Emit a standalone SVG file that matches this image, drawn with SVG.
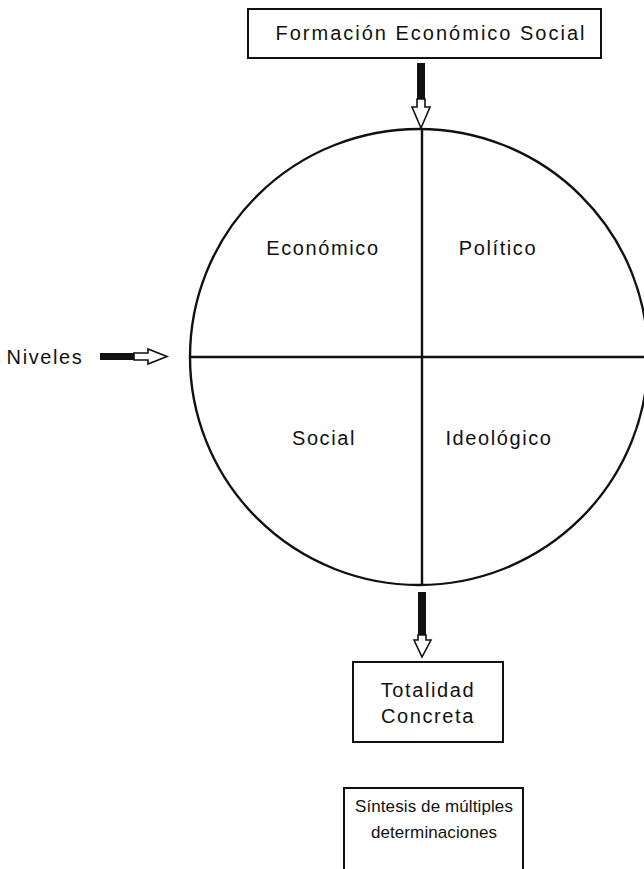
<svg xmlns="http://www.w3.org/2000/svg" width="644" height="869" viewBox="0 0 644 869">
<style>
text{font-family:"Liberation Sans","Arial",sans-serif;font-size:20px;fill:#111;text-anchor:middle;letter-spacing:1.6px}
.sm{font-size:17px;letter-spacing:0.1px}
.box{fill:#fff;stroke:#111;stroke-width:2}
.ln{stroke:#111;stroke-width:2.4;fill:none}
.shaft{fill:#111}
.head{fill:#fff;stroke:#111;stroke-width:1.6;stroke-linejoin:miter}
</style>
<rect width="644" height="869" fill="#fff"/>
<g id="formacion">
<rect class="box" x="248" y="9" width="353" height="49"/>
<text x="431" y="40" style="letter-spacing:2px">Formación Económico Social</text>
</g>
<g id="circulo">
<ellipse class="ln" cx="419" cy="357" rx="229" ry="228"/>
<line class="ln" x1="422" y1="129" x2="422" y2="585"/>
<line class="ln" x1="190" y1="357" x2="644" y2="357"/>
<text x="323" y="255">Económico</text>
<text x="498" y="255">Político</text>
<text x="324" y="445">Social</text>
<text x="499" y="445">Ideológico</text>
</g>
<g id="niveles">
<text x="45" y="364">Niveles</text>
</g>
<g id="totalidad">
<rect class="box" x="353" y="662" width="150" height="80"/>
<text x="428" y="697">Totalidad</text>
<text x="428" y="723">Concreta</text>
</g>
<g id="sintesis">
<path class="box" d="M344 872 V788 H523 V872"/>
<text class="sm" x="434" y="812">Síntesis de múltiples</text>
<text class="sm" x="434" y="838">determinaciones</text>
</g>
<g id="connectors">
<rect class="shaft" x="417" y="63" width="8" height="36"/>
<polygon class="head" points="417,99 425,99 425,107 430,107 421,128 412,107 417,107"/>
<rect class="shaft" x="418" y="592" width="8" height="43"/>
<polygon class="head" points="418,635 426,635 426,640 431,640 422,657 414,640 418,640"/>
<rect class="shaft" x="100" y="353" width="34" height="7"/>
<polygon class="head" points="134,353 148,353 148,349 167,356.5 148,364 148,360 134,360"/>
</g>
</svg>
